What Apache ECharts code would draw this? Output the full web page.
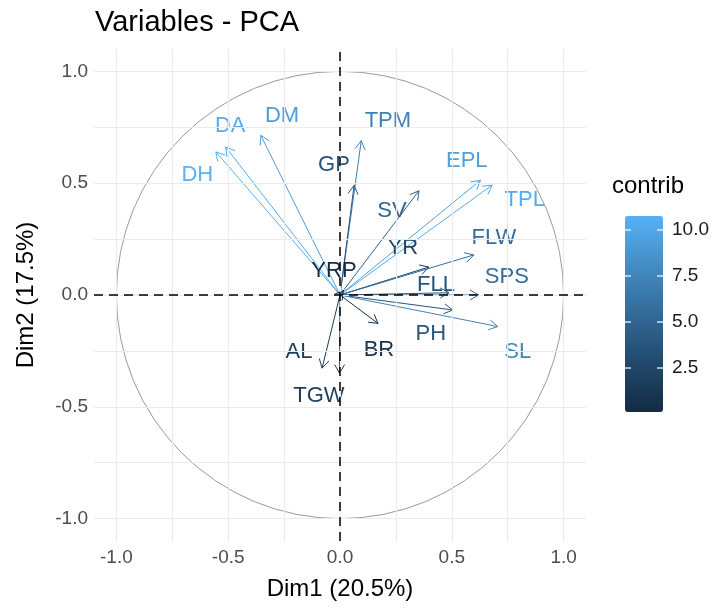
<!DOCTYPE html>
<html>
<head>
<meta charset="utf-8">
<script src="https://cdn.jsdelivr.net/npm/echarts@6/dist/echarts.min.js"></script>
<style>html,body{margin:0;padding:0;background:#fff}#c{width:717px;height:609px}</style>
</head>
<body>
<div id="c"></div>
<script>
// ---- data ----
const varNames = ['DH','DA','DM','TPM','GP','SV','EPL','TPL','YR','FLW','SPS','FLL','PH','SL','BR','AL','TGW','YRP'];
const dim1 = [-0.555,-0.511,-0.354,0.095,0.063,0.353,0.628,0.680,0.397,0.598,0.620,0.487,0.504,0.705,0.170,-0.080,-0.002,0.015];
const dim2 = [0.640,0.662,0.714,0.690,0.490,0.466,0.513,0.491,0.125,0.179,0.000,0.010,-0.067,-0.141,-0.127,-0.327,-0.350,0.020];
const contrib = [10.76,10.3,9.3,7.1,3.6,5.0,9.6,10.3,2.5,5.7,5.6,3.5,3.8,7.6,0.7,1.7,1.8,0.11];
// label anchor positions (data units)
const labelX = [-0.638,-0.491,-0.259,0.214,-0.027,0.232,0.567,0.826,0.281,0.688,0.746,0.429,0.406,0.795,0.174,-0.183,-0.094,-0.027];
const labelY = [0.536,0.754,0.799,0.777,0.580,0.375,0.598,0.424,0.210,0.254,0.080,0.045,-0.174,-0.254,-0.246,-0.254,-0.451,0.107];
const tickValues = [-1.0,-0.5,0.0,0.5,1.0];
const gridValues = [-1.0,-0.75,-0.5,-0.25,0.0,0.25,0.5,0.75,1.0];
const legendTicks = [2.5,5.0,7.5,10.0];
const contribMin = 0.11, contribMax = 10.76;
const circleRadius = [1];

const FONT = '"Liberation Sans", Arial, sans-serif';
const chart = echarts.init(document.getElementById('c'), null, {renderer:'canvas'});

const gridLineData = [];
gridValues.forEach(v => { gridLineData.push({xAxis:v}); gridLineData.push({yAxis:v}); });

const arrowData = varNames.map((n,i)=>[dim1[i], dim2[i], contrib[i], labelX[i], labelY[i]]);

// legend layout
const LG = {left:625, top:216, w:38, h:196};
const legendGraphics = [];
legendTicks.forEach(v=>{
  const y = LG.top + (contribMax - v)/(contribMax - contribMin)*LG.h;
  legendGraphics.push({type:'line', shape:{x1:LG.left, y1:y, x2:LG.left+6, y2:y}, style:{stroke:'#fff', lineWidth:1.2}, z:100});
  legendGraphics.push({type:'line', shape:{x1:LG.left+LG.w-6, y1:y, x2:LG.left+LG.w, y2:y}, style:{stroke:'#fff', lineWidth:1.2}, z:100});
  legendGraphics.push({type:'text', x:LG.left+LG.w+9, y:y, style:{text:v.toFixed(1), fill:'#1a1a1a', fontSize:19, fontFamily:FONT, align:'left', verticalAlign:'middle'}, z:100});
});
legendGraphics.push({type:'text', x:LG.left-13, y:186, style:{text:'contrib', fill:'#000', fontSize:24, fontFamily:FONT, align:'left', verticalAlign:'middle'}, z:100});

const option = {
  animation:false,
  backgroundColor:'#ffffff',
  title:{text:'Variables - PCA', left:90, top:3, textStyle:{fontFamily:FONT, fontSize:29, fontWeight:'normal', color:'#000'}},
  grid:{left:94, right:131, top:49, bottom:68, containLabel:false},
  xAxis:{type:'value', min:-1.1, max:1.1,
    name:'Dim1 (20.5%)', nameLocation:'middle', nameGap:36,
    nameTextStyle:{fontFamily:FONT, fontSize:24, color:'#000'},
    axisLine:{show:false},
    axisTick:{show:true, length:5, customValues:tickValues, lineStyle:{color:'#333'}},
    axisLabel:{customValues:tickValues, formatter:v=>Number(v).toFixed(1), fontFamily:FONT, fontSize:19, color:'#4D4D4D', margin:7},
    splitLine:{show:false}},
  yAxis:{type:'value', min:-1.1, max:1.1,
    name:'Dim2 (17.5%)', nameLocation:'middle', nameGap:56, nameRotate:90,
    nameTextStyle:{fontFamily:FONT, fontSize:24, color:'#000'},
    axisLine:{show:false},
    axisTick:{show:true, length:5, customValues:tickValues, lineStyle:{color:'#333'}},
    axisLabel:{customValues:tickValues, formatter:v=>Number(v).toFixed(1), fontFamily:FONT, fontSize:19, color:'#4D4D4D', margin:6},
    splitLine:{show:false}},
  visualMap:{type:'continuous', dimension:2, seriesIndex:3, min:contribMin, max:contribMax,
    show:true, calculable:false, left:LG.left, top:LG.top, itemWidth:LG.w, itemHeight:LG.h,
    padding:0, text:['',''], hoverLink:false,
    inRange:{color:['#132B43','#22496C','#336A98','#448DC4','#56B1F7']}},
  graphic:legendGraphics,
  series:[
    {type:'scatter', data:[], z:0, silent:true,
      markLine:{silent:true, symbol:['none','none'], label:{show:false},
        lineStyle:{color:'#EBEBEB', width:1.2, type:'solid'}, data:gridLineData, animation:false}},
    {type:'custom', z:1, silent:true, data:circleRadius.map(r=>[0,0,r]),
      renderItem:(params, api)=>{
        const c = api.coord([api.value(0), api.value(1)]);
        const s = api.size([api.value(2), api.value(2)]);
        return {type:'circle', shape:{cx:c[0], cy:c[1], r:(s[0]+s[1])/2}, style:{stroke:'#9a9a9a', fill:'none', lineWidth:1}};
      }},
    {type:'scatter', data:[], z:2, silent:true,
      markLine:{silent:true, symbol:['none','none'], label:{show:false},
        lineStyle:{color:'#000', width:1.5, type:[9,6]}, data:[{xAxis:0},{yAxis:0}], animation:false}},
    {type:'custom', z:3, silent:true, data:arrowData, encode:{x:0, y:1},
      renderItem:(params, api)=>{
        const o = api.coord([0,0]);
        const p = api.coord([api.value(0), api.value(1)]);
        const l = api.coord([api.value(3), api.value(4)]);
        const color = api.visual('color');
        const ang = Math.atan2(p[1]-o[1], p[0]-o[0]);
        const L = 10, a = Math.PI/6;
        const h1 = [p[0]-L*Math.cos(ang-a), p[1]-L*Math.sin(ang-a)];
        const h2 = [p[0]-L*Math.cos(ang+a), p[1]-L*Math.sin(ang+a)];
        return {type:'group', children:[
          {type:'line', shape:{x1:o[0], y1:o[1], x2:p[0], y2:p[1]}, style:{stroke:color, lineWidth:1}},
          {type:'polyline', shape:{points:[h1, p, h2]}, style:{stroke:color, lineWidth:1, fill:'none'}},
          {type:'text', x:l[0], y:l[1], style:{text:varNames[params.dataIndex], fill:color, fontSize:22, fontFamily:FONT, align:'center', verticalAlign:'middle'}}
        ]};
      }}
  ]
};
chart.setOption(option);
</script>
</body>
</html>
